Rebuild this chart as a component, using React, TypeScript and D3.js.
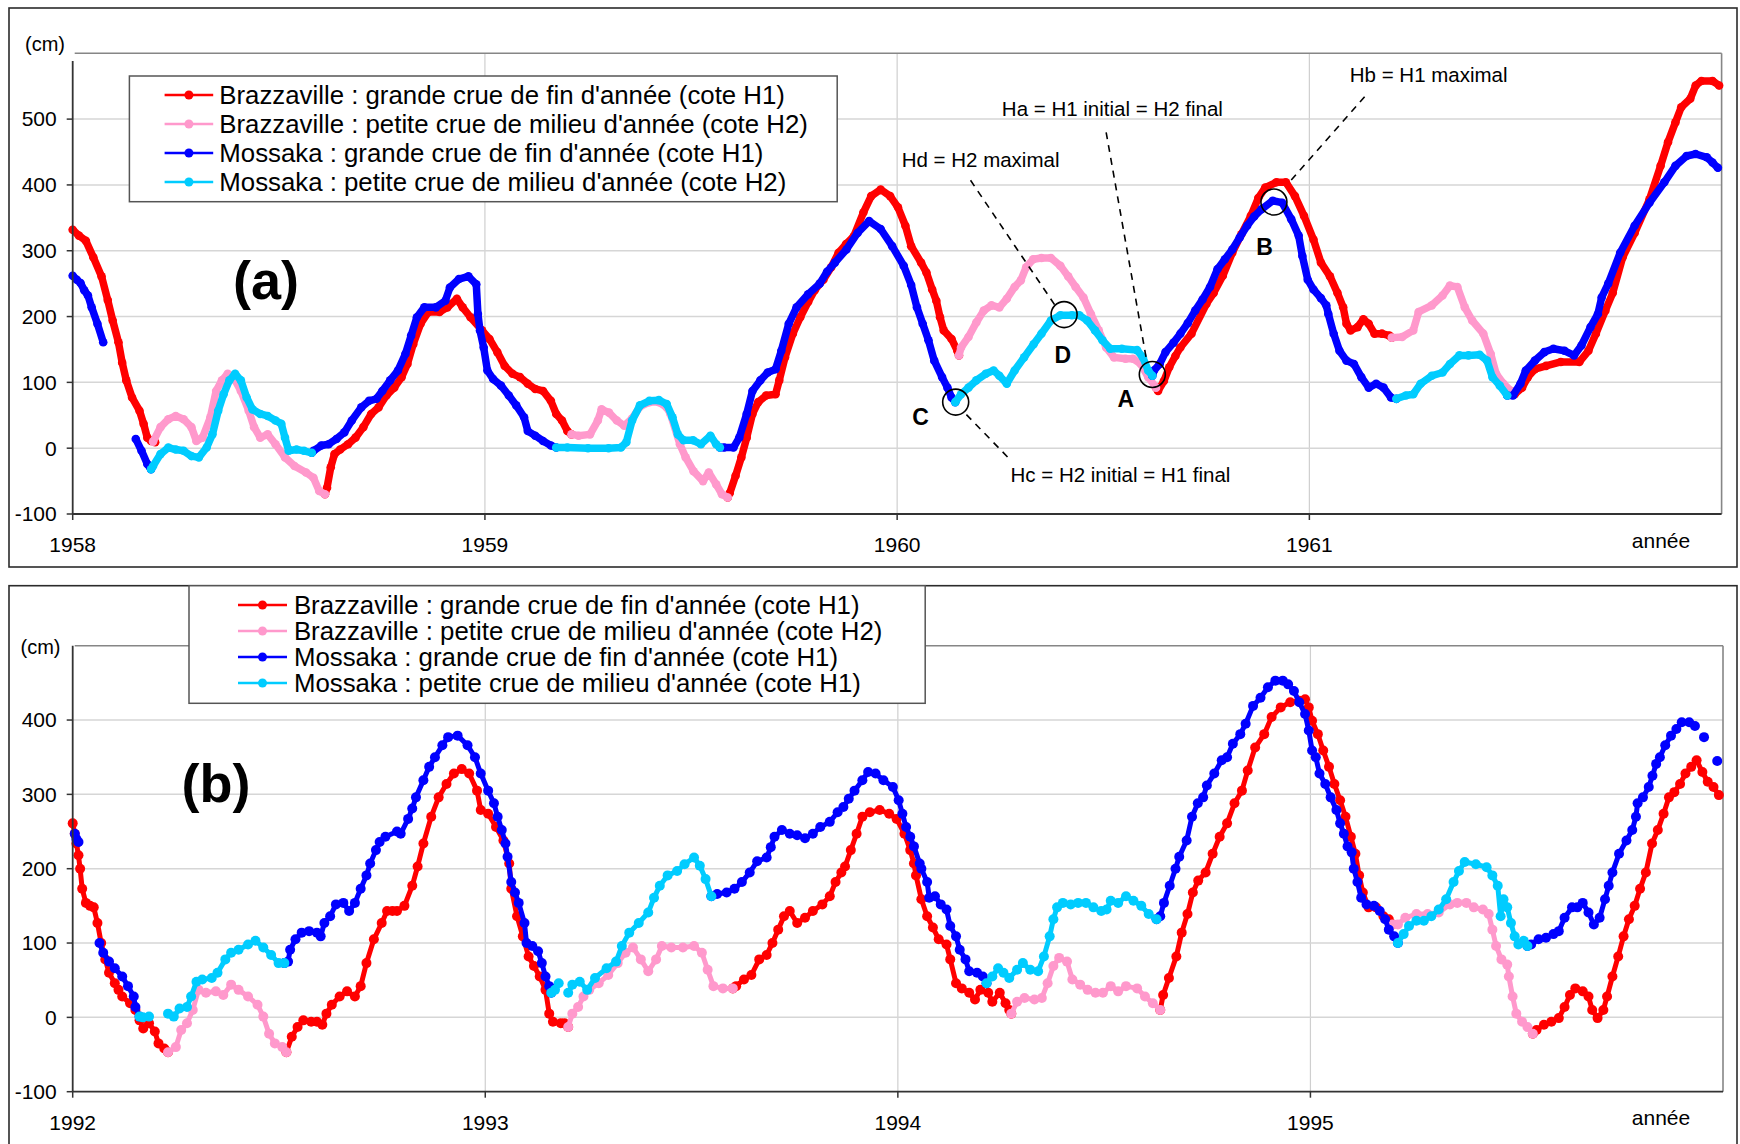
import React from 'react';
import * as d3 from 'd3';

type Pt = [number, number | null];

// ---------- Panel (a) 1958-1961 ----------
const A_BRAZ_H1: Pt[] = [
  [1958.000,332],[1958.015,323],[1958.032,315],[1958.050,290],[1958.070,261],[1958.085,225],[1958.097,194],[1958.111,161],[1958.120,130],[1958.130,103],[1958.144,77],[1958.162,57],[1958.172,37],[1958.181,16],[1958.190,11],[1958.200,9],
  [1958.4,null],
  [1958.612,-70],[1958.617,-60],[1958.626,-29],[1958.635,-9],[1958.649,-2],[1958.668,6],[1958.686,16],[1958.705,32],[1958.724,52],[1958.742,62],[1958.761,80],[1958.780,92],[1958.798,108],[1958.812,128],[1958.826,158],[1958.844,189],[1958.863,207],[1958.890,207],[1958.909,214],[1958.932,227],[1958.946,214],[1958.965,199],[1958.993,179],[1959.011,166],[1959.030,146],[1959.048,125],[1959.067,113],[1959.085,108],[1959.104,98],[1959.122,90],[1959.141,87],[1959.160,72],[1959.173,52],[1959.187,42],[1959.200,26],[1959.210,21],
  [1959.4,null],
  [1959.589,-75],[1959.594,-68],[1959.608,-42],[1959.622,-14],[1959.635,16],[1959.649,52],[1959.663,70],[1959.682,80],[1959.705,82],[1959.714,103],[1959.728,138],[1959.747,174],[1959.765,199],[1959.784,222],[1959.800,240],[1959.821,256],[1959.840,275],[1959.858,297],[1959.876,310],[1959.895,322],[1959.918,358],[1959.937,383],[1959.960,393],[1959.983,383],[1960.002,366],[1960.020,338],[1960.034,307],[1960.058,282],[1960.071,267],[1960.085,241],[1960.095,224],[1960.104,199],[1960.113,179],[1960.132,166],[1960.146,148],[1960.150,141],
  [1960.4,null],
  [1960.628,92],[1960.633,87],[1960.647,102],[1960.660,123],[1960.675,140],[1960.687,153],[1960.714,174],[1960.750,219],[1960.768,236],[1960.790,262],[1960.813,297],[1960.835,325],[1960.858,353],[1960.876,380],[1960.893,396],[1960.920,404],[1960.943,404],[1960.965,383],[1960.987,353],[1961.010,317],[1961.028,282],[1961.050,261],[1961.068,236],[1961.082,214],[1961.090,189],[1961.100,179],[1961.117,184],[1961.131,196],[1961.144,189],[1961.158,174],[1961.176,174],[1961.194,171],[1961.200,168],
  [1961.3,null],
  [1961.489,87],[1961.498,82],[1961.516,92],[1961.530,108],[1961.547,120],[1961.574,125],[1961.610,131],[1961.655,131],[1961.677,148],[1961.695,174],[1961.718,209],[1961.736,236],[1961.760,290],[1961.789,327],[1961.825,378],[1961.852,429],[1961.870,465],[1961.888,495],[1961.902,518],[1961.924,531],[1961.937,551],[1961.951,558],[1961.978,558],[1961.994,551],
];

const A_BRAZ_H2: Pt[] = [
  [1958.195,10],[1958.213,32],[1958.232,44],[1958.250,49],[1958.269,44],[1958.288,32],[1958.300,11],[1958.315,16],[1958.334,47],[1958.348,87],[1958.362,103],[1958.376,113],[1958.390,108],[1958.408,87],[1958.427,57],[1958.440,32],[1958.455,16],[1958.473,21],[1958.492,6],[1958.515,-14],[1958.538,-27],[1958.566,-37],[1958.584,-45],[1958.598,-65],[1958.612,-70],
  [1958.9,null],
  [1959.210,21],[1959.227,19],[1959.255,21],[1959.274,42],[1959.283,59],[1959.301,54],[1959.320,42],[1959.338,34],[1959.357,45],[1959.376,63],[1959.399,70],[1959.422,70],[1959.441,62],[1959.450,52],[1959.473,6],[1959.487,-14],[1959.506,-35],[1959.529,-50],[1959.543,-37],[1959.561,-55],[1959.575,-70],[1959.589,-75],
  [1959.9,null],
  [1960.150,141],[1960.155,153],[1960.173,169],[1960.192,191],[1960.210,209],[1960.229,217],[1960.248,214],[1960.266,227],[1960.285,245],[1960.300,255],[1960.313,275],[1960.330,287],[1960.350,289],[1960.373,289],[1960.396,277],[1960.415,261],[1960.433,245],[1960.452,229],[1960.470,204],[1960.489,179],[1960.507,153],[1960.526,138],[1960.554,136],[1960.572,136],[1960.591,128],[1960.609,108],[1960.628,92],
  [1960.9,null],
  [1961.200,168],[1961.225,169],[1961.252,179],[1961.265,207],[1961.297,217],[1961.323,232],[1961.341,247],[1961.359,245],[1961.377,214],[1961.395,194],[1961.422,174],[1961.440,143],[1961.453,113],[1961.471,98],[1961.489,87],
];

const A_MOSS_H1: Pt[] = [
  [1958.000,262],[1958.010,256],[1958.019,251],[1958.028,240],[1958.037,232],[1958.046,214],[1958.060,189],[1958.074,161],
  [1958.1,null],
  [1958.153,14],[1958.167,-4],[1958.181,-24],[1958.190,-32],
  [1958.4,null],
  [1958.580,-7],[1958.584,-4],[1958.603,4],[1958.621,6],[1958.640,14],[1958.659,24],[1958.677,42],[1958.700,62],[1958.719,72],[1958.737,75],[1958.751,87],[1958.770,103],[1958.789,118],[1958.807,143],[1958.821,171],[1958.835,199],[1958.853,214],[1958.881,214],[1958.904,224],[1958.915,244],[1958.937,257],[1958.960,261],[1958.979,249],[1958.983,204],[1958.988,179],[1958.997,153],[1959.006,118],[1959.020,105],[1959.039,95],[1959.058,80],[1959.076,65],[1959.095,47],[1959.104,26],[1959.122,19],[1959.141,11],[1959.160,4],[1959.173,1],
  [1959.4,null],
  [1959.570,1],[1959.580,1],[1959.603,1],[1959.617,16],[1959.635,52],[1959.649,87],[1959.668,103],[1959.686,115],[1959.705,120],[1959.719,148],[1959.737,189],[1959.756,214],[1959.784,234],[1959.812,250],[1959.830,268],[1959.849,282],[1959.877,302],[1959.904,327],[1959.932,345],[1959.960,333],[1959.988,307],[1960.016,277],[1960.034,248],[1960.048,214],[1960.062,189],[1960.076,164],[1960.090,133],[1960.109,108],[1960.122,92],[1960.132,77],[1960.141,70],
  [1960.4,null],
  [1960.619,110],[1960.623,118],[1960.637,128],[1960.651,146],[1960.670,160],[1960.687,174],[1960.705,190],[1960.723,209],[1960.741,226],[1960.759,245],[1960.777,272],[1960.795,287],[1960.813,302],[1960.831,320],[1960.849,338],[1960.866,352],[1960.884,363],[1960.911,376],[1960.934,373],[1960.956,348],[1960.974,323],[1960.983,292],[1960.996,256],[1961.010,241],[1961.028,228],[1961.041,217],[1961.046,204],[1961.059,174],[1961.073,148],[1961.090,133],[1961.108,128],[1961.126,108],[1961.144,92],[1961.162,98],[1961.180,92],[1961.198,77],[1961.211,75],
  [1961.3,null],
  [1961.480,80],[1961.494,80],[1961.512,98],[1961.525,118],[1961.547,133],[1961.570,146],[1961.592,151],[1961.619,148],[1961.642,141],[1961.660,156],[1961.682,184],[1961.700,204],[1961.709,229],[1961.725,250],[1961.754,297],[1961.789,338],[1961.825,373],[1961.861,404],[1961.888,429],[1961.915,444],[1961.937,447],[1961.964,442],[1961.978,434],[1961.991,426],
];

const A_MOSS_H2: Pt[] = [
  [1958.190,-32],[1958.195,-27],[1958.213,-9],[1958.232,1],[1958.250,-2],[1958.269,-4],[1958.288,-12],[1958.306,-14],[1958.325,1],[1958.339,21],[1958.353,57],[1958.366,82],[1958.380,103],[1958.394,113],[1958.408,103],[1958.422,77],[1958.436,59],[1958.455,52],[1958.473,49],[1958.492,42],[1958.506,37],[1958.515,16],[1958.524,-4],[1958.543,-2],[1958.561,-4],[1958.580,-7],
  [1958.9,null],
  [1959.173,1],[1959.200,1],[1959.250,0],[1959.300,0],[1959.330,1],[1959.343,9],[1959.357,42],[1959.376,65],[1959.399,72],[1959.422,73],[1959.441,67],[1959.455,47],[1959.468,21],[1959.482,12],[1959.505,12],[1959.524,6],[1959.547,19],[1959.561,6],[1959.570,1],
  [1959.9,null],
  [1960.141,70],[1960.155,82],[1960.173,92],[1960.192,103],[1960.215,113],[1960.234,118],[1960.248,110],[1960.266,98],[1960.285,118],[1960.308,138],[1960.331,158],[1960.350,174],[1960.373,194],[1960.396,202],[1960.424,202],[1960.442,202],[1960.461,194],[1960.480,179],[1960.498,164],[1960.517,151],[1960.545,151],[1960.582,149],[1960.596,138],[1960.609,118],[1960.619,110],
  [1960.9,null],
  [1961.211,75],[1961.234,80],[1961.252,82],[1961.270,98],[1961.297,110],[1961.323,115],[1961.341,128],[1961.364,141],[1961.386,141],[1961.413,142],[1961.431,133],[1961.444,108],[1961.462,95],[1961.480,80],
];

// ---------- Panel (b) 1992-1995 ----------
const B_BRAZ_H1: Pt[] = [
  [1992.000,261],[1992.005,247],[1992.009,234],[1992.014,218],[1992.018,200],[1992.023,173],[1992.032,154],[1992.042,150],[1992.051,148],[1992.060,127],[1992.069,100],[1992.079,78],[1992.088,60],[1992.102,46],[1992.111,37],[1992.120,28],[1992.139,19],[1992.152,10],[1992.162,-4],[1992.171,-15],[1992.185,-8],[1992.199,-19],[1992.208,-35],[1992.222,-42],[1992.231,-47],
  [1992.4,null],
  [1992.518,-47],[1992.531,-26],[1992.545,-13],[1992.559,-4],[1992.578,-6],[1992.592,-6],[1992.605,-10],[1992.615,5],[1992.628,17],[1992.647,28],[1992.665,35],[1992.684,28],[1992.698,42],[1992.712,73],[1992.730,105],[1992.749,127],[1992.762,143],[1992.775,143],[1992.786,143],[1992.804,150],[1992.823,177],[1992.836,203],[1992.850,234],[1992.869,270],[1992.887,296],[1992.906,314],[1992.924,328],[1992.943,334],[1992.961,328],[1992.980,305],[1992.989,279],[1993.007,274],[1993.026,256],[1993.044,238],[1993.058,207],[1993.063,173],[1993.077,136],[1993.091,109],[1993.105,82],[1993.118,69],[1993.132,55],[1993.146,37],[1993.155,5],[1993.164,-6],[1993.183,-8],[1993.192,-8],[1993.201,-13],
  [1993.4,null],
  [1993.600,39],[1993.608,42],[1993.627,51],[1993.645,57],[1993.664,78],[1993.682,84],[1993.696,100],[1993.710,118],[1993.724,136],[1993.738,143],[1993.756,127],[1993.775,134],[1993.794,143],[1993.817,152],[1993.835,163],[1993.849,182],[1993.863,195],[1993.872,203],[1993.886,225],[1993.900,247],[1993.914,270],[1993.932,276],[1993.956,279],[1993.979,274],[1993.997,267],[1994.016,247],[1994.030,225],[1994.039,207],[1994.044,191],[1994.057,159],[1994.071,136],[1994.085,121],[1994.099,105],[1994.118,98],[1994.127,78],[1994.141,46],[1994.155,39],[1994.173,33],[1994.187,24],[1994.200,37],[1994.219,33],[1994.229,21],[1994.247,33],[1994.261,19],[1994.270,10],[1994.275,5],
  [1994.4,null],
  [1994.636,10],[1994.643,30],[1994.657,53],[1994.675,82],[1994.688,114],[1994.702,139],[1994.715,168],[1994.728,184],[1994.746,195],[1994.763,220],[1994.780,243],[1994.798,261],[1994.816,288],[1994.834,305],[1994.848,332],[1994.866,363],[1994.888,381],[1994.906,404],[1994.928,417],[1994.951,424],[1994.973,426],[1994.987,428],[1994.996,417],[1995.004,399],[1995.018,381],[1995.031,359],[1995.045,337],[1995.058,314],[1995.072,292],[1995.085,270],[1995.098,243],[1995.109,220],[1995.118,191],[1995.127,168],[1995.141,148],[1995.159,148],[1995.177,136],[1995.190,132],[1995.199,125],
  [1995.4,null],
  [1995.539,-22],[1995.548,-17],[1995.566,-10],[1995.584,-6],[1995.602,-1],[1995.616,14],[1995.629,30],[1995.642,39],[1995.660,35],[1995.674,28],[1995.683,10],[1995.696,-1],[1995.710,10],[1995.719,28],[1995.732,55],[1995.746,82],[1995.759,109],[1995.772,132],[1995.786,150],[1995.799,173],[1995.813,195],[1995.828,234],[1995.842,252],[1995.856,274],[1995.869,296],[1995.882,303],[1995.896,314],[1995.909,328],[1995.923,337],[1995.936,346],[1995.950,330],[1995.963,317],[1995.977,310],[1995.990,299],
];

const B_BRAZ_H2: Pt[] = [
  [1992.231,-47],[1992.250,-40],[1992.263,-17],[1992.277,-8],[1992.291,10],[1992.305,37],[1992.323,33],[1992.347,35],[1992.365,30],[1992.384,44],[1992.402,37],[1992.425,28],[1992.448,17],[1992.462,1],[1992.476,-22],[1992.490,-35],[1992.508,-40],[1992.518,-47],
  [1992.9,null],
  [1993.201,-13],[1993.211,5],[1993.225,14],[1993.238,28],[1993.252,37],[1993.275,46],[1993.298,57],[1993.321,73],[1993.340,87],[1993.358,94],[1993.377,78],[1993.395,62],[1993.414,78],[1993.428,96],[1993.451,94],[1993.479,94],[1993.506,96],[1993.525,87],[1993.539,64],[1993.553,42],[1993.576,39],[1993.600,39],
  [1993.9,null],
  [1994.275,5],[1994.289,21],[1994.307,26],[1994.331,24],[1994.349,26],[1994.363,46],[1994.377,69],[1994.391,80],[1994.410,75],[1994.423,51],[1994.442,44],[1994.460,37],[1994.479,33],[1994.497,33],[1994.516,42],[1994.534,35],[1994.553,42],[1994.580,39],[1994.599,28],[1994.618,19],[1994.636,10],
  [1994.9,null],
  [1995.199,125],[1995.212,125],[1995.230,134],[1995.257,139],[1995.284,139],[1995.311,141],[1995.338,152],[1995.356,154],[1995.378,154],[1995.396,148],[1995.418,145],[1995.432,139],[1995.441,118],[1995.450,96],[1995.463,78],[1995.477,71],[1995.481,55],[1995.490,28],[1995.499,5],[1995.513,-6],[1995.526,-13],[1995.539,-22],
];

const B_MOSS_H1: Pt[] = [
  [1992.005,247],[1992.009,240],[1992.014,236],
  [1992.04,null],
  [1992.065,100],[1992.074,87],[1992.088,75],[1992.102,66],[1992.120,55],[1992.134,42],[1992.148,28],[1992.152,14],[1992.162,1],
  [1992.3,null],
  [1992.513,73],[1992.522,75],[1992.527,91],[1992.540,105],[1992.555,114],[1992.573,116],[1992.592,114],[1992.601,109],[1992.610,127],[1992.624,136],[1992.638,152],[1992.656,154],[1992.670,143],[1992.684,154],[1992.698,173],[1992.712,191],[1992.721,207],[1992.735,225],[1992.744,236],[1992.758,243],[1992.786,250],[1992.795,247],[1992.813,267],[1992.823,281],[1992.832,296],[1992.850,319],[1992.864,337],[1992.878,350],[1992.896,366],[1992.910,377],[1992.933,379],[1992.957,366],[1992.975,350],[1992.989,328],[1993.007,305],[1993.021,288],[1993.030,270],[1993.040,252],[1993.049,234],[1993.054,216],[1993.063,182],[1993.072,168],[1993.081,154],[1993.095,127],[1993.100,100],[1993.114,96],[1993.128,89],[1993.137,73],[1993.146,55],[1993.155,42],[1993.160,33],
  [1993.3,null],
  [1993.548,163],[1993.562,166],[1993.585,168],[1993.604,173],[1993.622,182],[1993.641,195],[1993.659,210],[1993.682,215],[1993.692,229],[1993.701,243],[1993.719,252],[1993.738,247],[1993.756,245],[1993.775,241],[1993.794,247],[1993.812,256],[1993.835,263],[1993.854,276],[1993.868,283],[1993.881,294],[1993.895,305],[1993.914,319],[1993.928,330],[1993.946,328],[1993.965,319],[1993.988,310],[1994.002,292],[1994.011,274],[1994.020,256],[1994.030,243],[1994.039,230],[1994.053,207],[1994.057,200],[1994.071,182],[1994.076,161],[1994.090,163],[1994.104,152],[1994.118,145],[1994.127,123],[1994.141,109],[1994.150,91],[1994.164,78],[1994.173,62],[1994.192,60],[1994.206,55],[1994.215,46],
  [1994.4,null],
  [1994.627,132],[1994.636,136],[1994.645,154],[1994.659,177],[1994.673,200],[1994.682,216],[1994.700,238],[1994.713,270],[1994.727,288],[1994.740,296],[1994.749,312],[1994.767,328],[1994.785,346],[1994.798,350],[1994.812,368],[1994.830,381],[1994.843,395],[1994.861,419],[1994.879,430],[1994.897,444],[1994.915,453],[1994.933,453],[1994.946,448],[1994.960,439],[1994.973,424],[1994.987,408],[1994.996,386],[1995.004,359],[1995.013,350],[1995.022,328],[1995.036,314],[1995.049,296],[1995.063,279],[1995.072,261],[1995.081,247],[1995.090,230],[1995.100,222],[1995.105,200],[1995.114,182],[1995.123,161],[1995.136,152],[1995.154,150],[1995.168,143],[1995.181,132],[1995.190,118],[1995.203,109],[1995.212,100],
  [1995.4,null],
  [1995.526,96],[1995.535,98],[1995.553,105],[1995.571,107],[1995.589,112],[1995.602,116],[1995.616,134],[1995.634,148],[1995.647,148],[1995.660,154],[1995.674,141],[1995.687,125],[1995.701,134],[1995.714,159],[1995.723,177],[1995.732,195],[1995.748,220],[1995.766,238],[1995.780,252],[1995.789,270],[1995.793,288],[1995.806,296],[1995.820,310],[1995.829,325],[1995.838,341],[1995.847,350],[1995.860,366],[1995.874,379],[1995.887,388],[1995.900,397],[1995.918,397],[1995.932,392],
  [1995.94,null],
  [1995.954,377],
  [1995.97,null],
  [1995.986,345],
];

const B_MOSS_H2: Pt[] = [
  [1992.162,1],[1992.170,0],[1992.185,1],
  [1992.2,null],
  [1992.231,5],[1992.245,1],[1992.259,12],[1992.277,14],[1992.287,28],[1992.300,48],[1992.314,51],[1992.337,53],[1992.351,60],[1992.370,78],[1992.384,87],[1992.402,91],[1992.425,98],[1992.443,103],[1992.462,94],[1992.481,84],[1992.499,73],[1992.513,73],
  [1992.9,null],
  [1993.160,33],[1993.169,37],[1993.178,46],
  [1993.19,null],
  [1993.201,33],[1993.211,44],[1993.229,48],[1993.247,37],[1993.266,53],[1993.294,66],[1993.317,75],[1993.331,96],[1993.349,114],[1993.372,127],[1993.395,141],[1993.409,161],[1993.423,177],[1993.442,191],[1993.465,197],[1993.483,206],[1993.506,215],[1993.520,204],[1993.534,186],[1993.548,163],
  [1993.9,null],
  [1994.215,46],[1994.229,55],[1994.243,66],[1994.256,60],[1994.270,53],[1994.289,64],[1994.303,73],[1994.321,64],[1994.340,62],[1994.354,82],[1994.368,109],[1994.377,132],[1994.386,148],[1994.400,154],[1994.419,152],[1994.437,154],[1994.456,154],[1994.474,148],[1994.493,143],[1994.506,145],[1994.516,157],[1994.534,154],[1994.553,163],[1994.571,157],[1994.590,150],[1994.608,139],[1994.627,132],
  [1994.9,null],
  [1995.212,100],[1995.226,112],[1995.239,123],[1995.257,130],[1995.275,130],[1995.293,136],[1995.311,145],[1995.329,159],[1995.347,182],[1995.360,197],[1995.374,209],[1995.401,206],[1995.427,202],[1995.441,191],[1995.454,177],[1995.461,136],[1995.468,159],[1995.477,148],[1995.486,127],[1995.495,109],[1995.504,98],[1995.517,103],[1995.526,96],
];

const LEGEND_A = [
  "Brazzaville : grande crue de fin d'année (cote H1)",
  "Brazzaville : petite crue de milieu d'année (cote H2)",
  "Mossaka : grande crue de fin d'année (cote H1)",
  "Mossaka : petite crue de milieu d'année (cote H2)",
];
const LEGEND_B = [
  "Brazzaville : grande crue de fin d'année (cote H1)",
  "Brazzaville : petite crue de milieu d'année (cote H2)",
  "Mossaka : grande crue de fin d'année (cote H1)",
  "Mossaka : petite crue de milieu d'année (cote H1)",
];
const COLORS = ['#FF0000', '#FF99CC', '#0000FF', '#00CCFF'];

const Y_TICKS_A = [-100, 0, 100, 200, 300, 400, 500];
const Y_TICKS_B = [-100, 0, 100, 200, 300, 400];
const YEARS_A = [1958, 1959, 1960, 1961];
const YEARS_B = [1992, 1993, 1994, 1995];

// Annotations of panel (a): circled points, letters, labels, leader lines (data coordinates)
const CIRCLES_A: { id: string; t: number; v: number }[] = [
  { id: 'C', t: 1960.142, v: 70 },
  { id: 'D', t: 1960.405, v: 203 },
  { id: 'A', t: 1960.619, v: 112 },
  { id: 'B', t: 1960.914, v: 374 },
];
const LETTERS_A: { id: string; t: number; v: number }[] = [
  { id: 'C', t: 1960.057, v: 35 },
  { id: 'D', t: 1960.402, v: 130 },
  { id: 'A', t: 1960.555, v: 62 },
  { id: 'B', t: 1960.891, v: 294 },
];
const LABELS_A: { text: string; t: number; v: number }[] = [
  { text: 'Hd = H2 maximal', t: 1960.011, v: 427 },
  { text: 'Ha = H1 initial = H2 final', t: 1960.254, v: 504 },
  { text: 'Hb = H1 maximal', t: 1961.098, v: 556 },
  { text: 'Hc = H2 initial = H1 final', t: 1960.275, v: -51 },
];
const LEADERS_A: [number, number, number, number][] = [
  [1960.178, 407, 1960.382, 218],
  [1960.507, 480, 1960.605, 134],
  [1961.134, 534, 1960.947, 401],
  [1960.168, 51, 1960.275, -18],
];

const FONT = "'Liberation Sans', Arial, Helvetica, sans-serif";

interface PanelCfg {
  box: [number, number, number, number];
  x0: number; x1: number; yTop: number; yBot: number; axisTop: number;
  yDomain: [number, number]; xDomain: [number, number];
  yTicks: number[]; years: number[];
  series: Pt[][];
  legend: string[];
  legBox: [number, number, number, number];
  legRow0: number; legStep: number; legLine: [number, number]; legText: number;
  cm: [number, number]; label: string; labelPos: [number, number];
  xLabelY: number; anneeY: number;
  lineW: number; dotR: number;
}

function Panel({ c }: { c: PanelCfg }) {
  const x = d3.scaleLinear().domain(c.xDomain).range([c.x0, c.x1]);
  const y = d3.scaleLinear().domain(c.yDomain).range([c.yBot, c.yTop]);
  const line = d3.line<Pt>()
    .defined(d => d[1] !== null)
    .x(d => x(d[0]))
    .y(d => y(d[1] as number));
  const [bx, by, bw, bh] = c.box;
  const [lx, ly, lw, lh] = c.legBox;
  return (
    <g>
      <rect x={bx} y={by} width={bw} height={bh} fill="#fff" stroke="#2b2b2b" strokeWidth={1.6} />
      {c.years.slice(1).map(yr => (
        <line key={'vg' + yr} x1={x(yr)} x2={x(yr)} y1={c.yTop} y2={c.yBot} stroke="#cfcfcf" strokeWidth={1.2} />
      ))}
      {c.yTicks.filter(v => v > c.yDomain[0]).map(v => (
        <line key={'hg' + v} x1={c.x0} x2={c.x1} y1={y(v)} y2={y(v)} stroke="#d6d6d6" strokeWidth={1.5} />
      ))}
      <line x1={c.x0 + 2} x2={c.x1} y1={c.yTop} y2={c.yTop} stroke="#868686" strokeWidth={1.6} />
      <line x1={c.x1} x2={c.x1} y1={c.yTop} y2={c.yBot} stroke="#868686" strokeWidth={1.6} />
      {c.series.map((s, i) => (
        <g key={'s' + i}>
          <path d={line(s) || ''} fill="none" stroke={COLORS[i]} strokeWidth={c.lineW} strokeLinejoin="round" strokeLinecap="round" />
          {s.filter(d => d[1] !== null).map((d, j) => (
            <circle key={j} cx={x(d[0])} cy={y(d[1] as number)} r={c.dotR} fill={COLORS[i]} />
          ))}
        </g>
      ))}
      <line x1={c.x0} x2={c.x0} y1={c.axisTop} y2={c.yBot} stroke="#333" strokeWidth={1.8} />
      <line x1={c.x0} x2={c.x1} y1={c.yBot} y2={c.yBot} stroke="#333" strokeWidth={1.8} />
      {c.yTicks.map(v => (
        <g key={'yt' + v}>
          <line x1={c.x0 - 6} x2={c.x0} y1={y(v)} y2={y(v)} stroke="#333" strokeWidth={1.5} />
          <text x={c.x0 - 16} y={y(v)} dy="0.35em" textAnchor="end" fontSize={21} fontFamily={FONT} fill="#000">{v}</text>
        </g>
      ))}
      {c.years.map(yr => (
        <g key={'xt' + yr}>
          <line x1={x(yr)} x2={x(yr)} y1={c.yBot} y2={c.yBot + 6} stroke="#333" strokeWidth={1.5} />
          <text x={x(yr)} y={c.xLabelY} dy="0.35em" textAnchor="middle" fontSize={21} fontFamily={FONT} fill="#000">{yr}</text>
        </g>
      ))}
      <text x={1661} y={c.anneeY} dy="0.35em" textAnchor="middle" fontSize={21} fontFamily={FONT} fill="#000">année</text>
      <text x={c.cm[0]} y={c.cm[1]} dy="0.35em" textAnchor="middle" fontSize={20} fontFamily={FONT} fill="#000">(cm)</text>
      <text x={c.labelPos[0]} y={c.labelPos[1]} textAnchor="middle" fontSize={54} fontWeight="bold" fontFamily={FONT} fill="#000">{c.label}</text>
      <rect x={lx} y={ly} width={lw} height={lh} fill="#fff" stroke="#555" strokeWidth={1.5} />
      {c.legend.map((t, i) => {
        const ry = c.legRow0 + i * c.legStep;
        return (
          <g key={'lg' + i}>
            <line x1={c.legLine[0]} x2={c.legLine[1]} y1={ry} y2={ry} stroke={COLORS[i]} strokeWidth={2.5} />
            <circle cx={(c.legLine[0] + c.legLine[1]) / 2} cy={ry} r={4.5} fill={COLORS[i]} />
            <text x={c.legText} y={ry} dy="0.35em" fontSize={25.8} fontFamily={FONT} fill="#000">{t}</text>
          </g>
        );
      })}
    </g>
  );
}

const CFG_A: PanelCfg = {
  box: [9, 8, 1728, 559],
  x0: 72.7, x1: 1721.6, yTop: 53.3, yBot: 514, axisTop: 61,
  yDomain: [-100, 600], xDomain: [1958, 1962],
  yTicks: Y_TICKS_A, years: YEARS_A,
  series: [A_BRAZ_H1, A_BRAZ_H2, A_MOSS_H1, A_MOSS_H2],
  legend: LEGEND_A,
  legBox: [129.4, 76, 707.8, 125.7],
  legRow0: 95, legStep: 29, legLine: [164.6, 213.2], legText: 219.3,
  cm: [45, 44], label: '(a)', labelPos: [266, 299],
  xLabelY: 545, anneeY: 541,
  lineW: 7.5, dotR: 4.3,
};

const CFG_B: PanelCfg = {
  box: [9, 585.7, 1728, 580],
  x0: 72.7, x1: 1723, yTop: 645.7, yBot: 1091.7, axisTop: 645.7,
  yDomain: [-100, 500], xDomain: [1992, 1996],
  yTicks: Y_TICKS_B, years: YEARS_B,
  series: [B_BRAZ_H1, B_BRAZ_H2, B_MOSS_H1, B_MOSS_H2],
  legend: LEGEND_B,
  legBox: [189, 585.7, 736.2, 117.6],
  legRow0: 605, legStep: 26, legLine: [238, 287], legText: 293.9,
  cm: [40.5, 647], label: '(b)', labelPos: [216, 802],
  xLabelY: 1122.7, anneeY: 1118,
  lineW: 5, dotR: 5,
};

function Annotations() {
  const x = d3.scaleLinear().domain(CFG_A.xDomain).range([CFG_A.x0, CFG_A.x1]);
  const y = d3.scaleLinear().domain(CFG_A.yDomain).range([CFG_A.yBot, CFG_A.yTop]);
  return (
    <g>
      {LEADERS_A.map((l, i) => (
        <line key={'ld' + i} x1={x(l[0])} y1={y(l[1])} x2={x(l[2])} y2={y(l[3])} stroke="#000" strokeWidth={1.6} strokeDasharray="7,6" />
      ))}
      {CIRCLES_A.map(cc => (
        <circle key={'c' + cc.id} cx={x(cc.t)} cy={y(cc.v)} r={13} fill="none" stroke="#000" strokeWidth={1.6} />
      ))}
      {LETTERS_A.map(l => (
        <text key={'l' + l.id} x={x(l.t)} y={y(l.v)} textAnchor="middle" fontSize={23} fontWeight="bold" fontFamily={FONT} fill="#000">{l.id}</text>
      ))}
      {LABELS_A.map(l => (
        <text key={l.text} x={x(l.t)} y={y(l.v)} fontSize={20.5} fontFamily={FONT} fill="#000">{l.text}</text>
      ))}
    </g>
  );
}

export default function App() {
  return (
    <svg width={1740} height={1144} viewBox="0 0 1740 1144"
      style={{ position: 'absolute', left: 0, top: 0, background: '#fff' }}>
      <rect x={0} y={0} width={1740} height={1144} fill="#fff" />
      <Panel c={CFG_A} />
      <Annotations />
      <Panel c={CFG_B} />
    </svg>
  );
}
